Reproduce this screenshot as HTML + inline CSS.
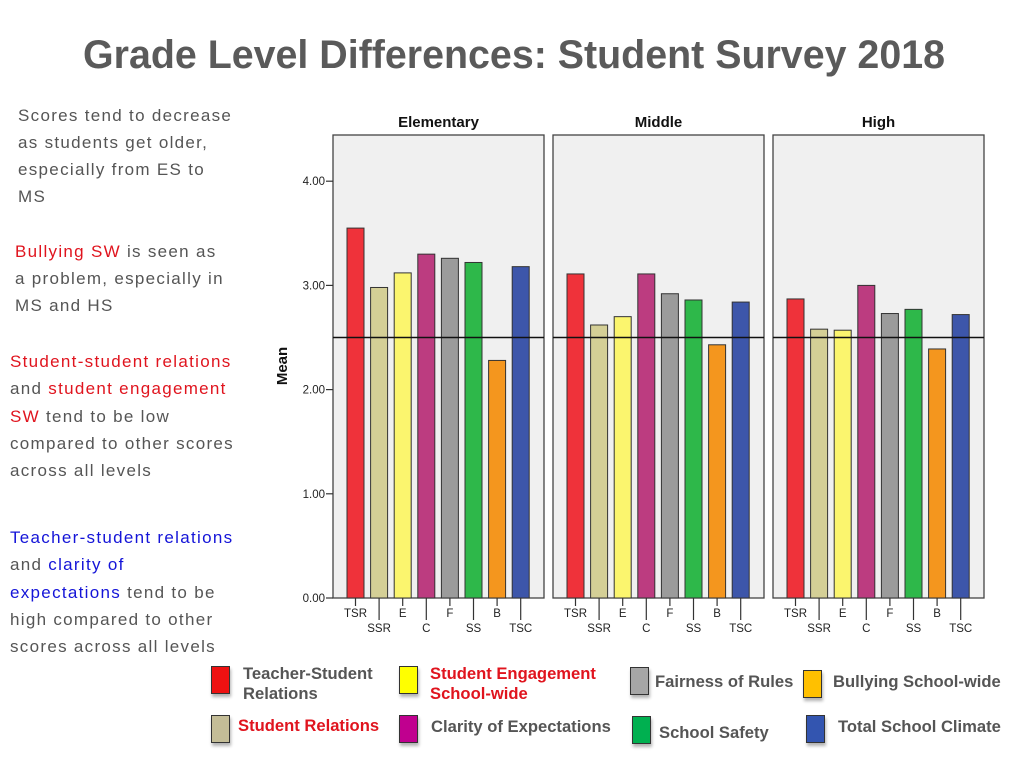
<!DOCTYPE html>
<html><head><meta charset="utf-8"><style>
body{margin:0;width:1024px;height:768px;background:#fff;overflow:hidden;font-family:"Liberation Sans",sans-serif}
.side{position:absolute;font-size:17px;color:#555;letter-spacing:1.3px;white-space:nowrap}
.r{color:#e0141e}.b{color:#1414d8}
.leg{position:absolute;font-size:16.6px;font-weight:bold;color:#555;line-height:20px;white-space:nowrap}
.sw{position:absolute;width:17px;height:26px;border:1px solid #333;box-shadow:1px 3px 3px rgba(0,0,0,0.3)}
</style></head><body>
<svg width="1024" height="768" style="position:absolute;left:0;top:0">
<text x="514" y="68" text-anchor="middle" font-size="40" font-weight="bold" fill="#5a5a5a" textLength="862" lengthAdjust="spacingAndGlyphs">Grade Level Differences: Student Survey 2018</text>
<g id="plot"></g>
</svg>

<div class="side" style="left:18px;top:102px;line-height:27px">Scores tend to decrease<br>as students get older,<br>especially from ES to<br>MS</div>
<div class="side" style="left:15px;top:238px;line-height:27px"><span class="r">Bullying SW</span> is seen as<br>a problem, especially in<br>MS and HS</div>
<div class="side" style="left:10px;top:348px;line-height:27.3px"><span class="r">Student-student relations</span><br>and <span class="r">student engagement</span><br><span class="r">SW</span> tend to be low<br>compared to other scores<br>across all levels</div>
<div class="side" style="left:10px;top:524px;line-height:27.3px"><span class="b">Teacher-student relations</span><br>and <span class="b">clarity of</span><br><span class="b">expectations</span> tend to be<br>high compared to other<br>scores across all levels</div>

<div class="sw" style="left:211px;top:666px;background:#ee1111"></div>
<div class="leg" style="left:243px;top:664px">Teacher-Student<br>Relations</div>
<div class="sw" style="left:399px;top:666px;background:#ffff00"></div>
<div class="leg r" style="left:430px;top:664px;color:#e0141e">Student Engagement<br>School-wide</div>
<div class="sw" style="left:630px;top:667px;background:#a6a6a6"></div>
<div class="leg" style="left:655px;top:672px">Fairness of Rules</div>
<div class="sw" style="left:803px;top:670px;background:#ffc000"></div>
<div class="leg" style="left:833px;top:672px">Bullying School-wide</div>
<div class="sw" style="left:211px;top:715px;background:#c4bd97"></div>
<div class="leg" style="left:238px;top:716px;color:#e0141e">Student Relations</div>
<div class="sw" style="left:399px;top:715px;background:#c0008f"></div>
<div class="leg" style="left:431px;top:717px">Clarity of Expectations</div>
<div class="sw" style="left:632px;top:716px;background:#00b050"></div>
<div class="leg" style="left:659px;top:723px">School Safety</div>
<div class="sw" style="left:806px;top:715px;background:#3355b0"></div>
<div class="leg" style="left:838px;top:717px">Total School Climate</div>

<script>
const categories=["TSR","SSR","E","C","F","SS","B","TSC"];
const panels=["Elementary","Middle","High"];
const elementary=[3.55,2.98,3.12,3.30,3.26,3.22,2.28,3.18];
const middle=[3.11,2.62,2.70,3.11,2.92,2.86,2.43,2.84];
const high=[2.87,2.58,2.57,3.00,2.73,2.77,2.39,2.72];
const yTicks=[0,1,2,3,4];
const yTickLabels=["0.00","1.00","2.00","3.00","4.00"];
const refValue=2.5;
const colors=["#ef323a","#d4cf96","#fbf56e","#bc3c80","#9b9b9b","#2eb84a","#f4961e","#3d56aa"];
const series=[elementary,middle,high];
const NS="http://www.w3.org/2000/svg";
const g=document.getElementById('plot');
const y0=598,pxPerUnit=104.2;
function y(v){return y0-v*pxPerUnit;}
const panelX=[333,553,773],panelW=211,panelTop=135;
function x(p,i){return panelX[p]+14+i*23.6;}
function mk(tag,attrs){const e=document.createElementNS(NS,tag);for(const k in attrs)e.setAttribute(k,attrs[k]);g.appendChild(e);return e;}
panels.forEach((name,p)=>{
  const r=mk('rect',{x:panelX[p],y:panelTop,width:panelW,height:y0-panelTop,fill:'#f0f0f0',stroke:'#444','stroke-width':1.3});
  
  
  const t=mk('text',{x:panelX[p]+panelW/2,y:127,'text-anchor':'middle','font-size':15,'font-weight':'bold',fill:'#111'});
  t.textContent=name;
  
  
  series[p].forEach((v,i)=>{
    const b=mk('rect',{x:x(p,i),y:y(v),width:17,height:y0-y(v),fill:colors[i],stroke:'#333','stroke-width':1});
    
    
    const cx=x(p,i)+8.5,long=i%2===1;
    const tk=mk('line',{x1:cx,x2:cx,y1:y0,y2:long?620:606,stroke:'#333','stroke-width':1.2});
    
    
    const tl=mk('text',{x:cx,y:long?632:617,'text-anchor':'middle','font-size':11.5,fill:'#222'});
    tl.textContent=categories[i];
    
    
  });
  const rl=mk('line',{x1:panelX[p],x2:panelX[p]+panelW,y1:y(refValue),y2:y(refValue),stroke:'#111','stroke-width':1.5});
  
  
});
yTicks.forEach((v,i)=>{
  const l=mk('line',{x1:326,x2:333,y1:y(v),y2:y(v),stroke:'#333','stroke-width':1.2});
  
  
  const t=mk('text',{x:325,y:y(v)+4,'text-anchor':'end','font-size':11.5,fill:'#222'});
  t.textContent=yTickLabels[i];
  
  
});
const yt=mk('text',{x:0,y:0,'text-anchor':'middle','font-size':15,'font-weight':'bold',fill:'#111',transform:'translate(287,366) rotate(-90)'});
yt.textContent='Mean';


</script>
</body></html>
